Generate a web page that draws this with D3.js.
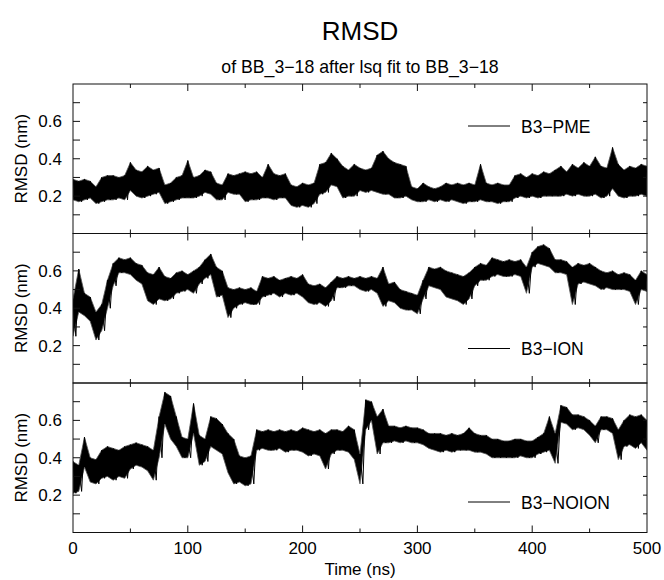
<!DOCTYPE html>
<html>
<head>
<meta charset="utf-8">
<script src="https://cdn.jsdelivr.net/npm/d3@7"></script>
<style>
  body { margin: 0; background: #fff; }
  text { font-family: "Liberation Sans", Arial, sans-serif; fill: #000; }
</style>
</head>
<body>
<svg id="chart" width="664" height="580"></svg>
<script>
// sample times every 5 ns; each series given as band top / band bottom of the noisy trace
const times = d3.range(0, 501, 5);

const pmeHi = [0.29,0.28,0.29,0.28,0.25,0.30,0.31,0.31,0.30,0.31,
    0.38,0.34,0.33,0.36,0.34,0.35,0.26,0.27,0.30,0.31,
    0.39,0.30,0.31,0.34,0.33,0.27,0.26,0.32,0.31,0.32,
    0.33,0.32,0.33,0.30,0.37,0.32,0.31,0.32,0.26,0.25,
    0.27,0.26,0.27,0.37,0.38,0.43,0.40,0.36,0.34,0.37,
    0.35,0.34,0.35,0.42,0.44,0.40,0.38,0.37,0.36,0.25,
    0.24,0.27,0.25,0.24,0.25,0.27,0.26,0.27,0.26,0.27,
    0.26,0.37,0.27,0.26,0.27,0.26,0.26,0.31,0.32,0.30,
    0.32,0.31,0.33,0.32,0.34,0.36,0.33,0.37,0.35,0.38,
    0.36,0.41,0.36,0.35,0.46,0.37,0.34,0.36,0.35,0.37,0.36];
const pmeLo = [0.18,0.17,0.18,0.19,0.16,0.17,0.18,0.18,0.19,0.18,
    0.23,0.20,0.19,0.20,0.21,0.22,0.16,0.17,0.18,0.19,
    0.19,0.19,0.20,0.22,0.21,0.18,0.18,0.22,0.21,0.21,
    0.17,0.18,0.18,0.19,0.19,0.18,0.19,0.19,0.15,0.14,
    0.15,0.14,0.16,0.21,0.22,0.26,0.25,0.19,0.20,0.20,
    0.23,0.22,0.23,0.22,0.21,0.21,0.19,0.19,0.20,0.18,
    0.17,0.17,0.18,0.17,0.18,0.17,0.18,0.17,0.16,0.17,
    0.17,0.18,0.17,0.17,0.16,0.17,0.17,0.19,0.20,0.19,
    0.20,0.19,0.20,0.20,0.20,0.20,0.21,0.20,0.21,0.20,
    0.20,0.21,0.19,0.20,0.24,0.20,0.19,0.20,0.20,0.21,0.20];

const ionHi = [0.45,0.61,0.48,0.46,0.38,0.42,0.55,0.64,0.67,0.66,
    0.67,0.64,0.63,0.59,0.58,0.62,0.57,0.56,0.59,0.60,
    0.58,0.60,0.62,0.66,0.69,0.62,0.60,0.51,0.50,0.51,
    0.50,0.51,0.49,0.57,0.56,0.57,0.55,0.56,0.57,0.56,
    0.58,0.53,0.52,0.53,0.51,0.54,0.57,0.56,0.57,0.56,
    0.57,0.56,0.57,0.56,0.62,0.53,0.54,0.50,0.49,0.48,
    0.47,0.55,0.62,0.61,0.62,0.60,0.59,0.58,0.57,0.59,
    0.62,0.64,0.63,0.67,0.66,0.65,0.66,0.65,0.66,0.62,
    0.70,0.73,0.74,0.72,0.66,0.66,0.65,0.62,0.64,0.63,
    0.64,0.62,0.60,0.59,0.60,0.58,0.59,0.58,0.55,0.60,0.58];
const ionLo = [0.25,0.38,0.36,0.33,0.23,0.28,0.40,0.52,0.59,0.59,
    0.58,0.55,0.53,0.44,0.42,0.45,0.44,0.45,0.48,0.49,
    0.50,0.48,0.53,0.56,0.58,0.46,0.47,0.35,0.40,0.42,
    0.43,0.42,0.42,0.46,0.47,0.48,0.46,0.48,0.47,0.48,
    0.46,0.43,0.42,0.43,0.41,0.44,0.51,0.51,0.52,0.52,
    0.50,0.49,0.50,0.48,0.41,0.44,0.43,0.40,0.39,0.39,
    0.37,0.45,0.52,0.51,0.50,0.46,0.45,0.44,0.42,0.45,
    0.52,0.55,0.55,0.57,0.58,0.57,0.57,0.58,0.57,0.48,
    0.62,0.64,0.63,0.62,0.59,0.59,0.58,0.42,0.53,0.54,
    0.53,0.52,0.50,0.51,0.50,0.50,0.50,0.49,0.42,0.50,0.49];

const noionHi = [0.38,0.36,0.51,0.40,0.39,0.44,0.46,0.45,0.44,0.46,
    0.47,0.48,0.47,0.46,0.44,0.62,0.75,0.73,0.62,0.51,
    0.50,0.69,0.52,0.50,0.62,0.61,0.58,0.53,0.50,0.41,
    0.40,0.41,0.55,0.54,0.55,0.54,0.55,0.54,0.55,0.54,
    0.56,0.55,0.54,0.55,0.53,0.55,0.55,0.54,0.57,0.55,
    0.42,0.71,0.70,0.62,0.66,0.57,0.57,0.56,0.57,0.56,
    0.56,0.55,0.53,0.53,0.53,0.52,0.53,0.52,0.53,0.56,
    0.53,0.52,0.52,0.50,0.50,0.49,0.49,0.50,0.50,0.49,
    0.49,0.51,0.53,0.62,0.53,0.68,0.67,0.63,0.63,0.62,
    0.60,0.57,0.62,0.62,0.61,0.55,0.60,0.63,0.62,0.63,0.60];
const noionLo = [0.21,0.22,0.35,0.27,0.26,0.29,0.30,0.28,0.30,0.29,
    0.34,0.36,0.35,0.33,0.28,0.40,0.58,0.50,0.46,0.40,
    0.40,0.53,0.36,0.38,0.46,0.44,0.42,0.32,0.26,0.27,
    0.25,0.26,0.44,0.45,0.44,0.44,0.45,0.43,0.44,0.44,
    0.43,0.41,0.42,0.41,0.34,0.42,0.44,0.44,0.43,0.39,
    0.26,0.55,0.60,0.42,0.48,0.48,0.49,0.48,0.49,0.48,
    0.48,0.47,0.45,0.44,0.43,0.44,0.43,0.44,0.44,0.44,
    0.43,0.43,0.42,0.40,0.40,0.40,0.40,0.40,0.41,0.40,
    0.40,0.42,0.43,0.44,0.37,0.59,0.58,0.55,0.56,0.55,
    0.52,0.48,0.55,0.55,0.53,0.39,0.46,0.47,0.45,0.48,0.44];

const seriesNames = ["B3\u2212PME", "B3\u2212ION", "B3\u2212NOION"];
const yTickVals = [0.2, 0.4, 0.6];
const xTickVals = [0, 100, 200, 300, 400, 500];

const svg = d3.select("#chart"),
    left = 73, right = 647,
    panelTops = [84, 233.5, 383],
    panelH = 149.5,
    legendDy = [42, 115, 119];

const x = d3.scaleLinear().domain([0, 500]).range([left, right]);

svg.append("text").attr("x", 360).attr("y", 40)
    .attr("text-anchor", "middle").attr("font-size", 26).text("RMSD");
svg.append("text").attr("x", 360).attr("y", 73)
    .attr("text-anchor", "middle").attr("font-size", 17.7)
    .text("of BB_3\u221218 after lsq fit to BB_3\u221218");

const bands = [[pmeHi, pmeLo], [ionHi, ionLo], [noionHi, noionLo]];

bands.forEach(([hi, lo], p) => {
    const top = panelTops[p], bottom = top + panelH;
    const y = d3.scaleLinear().domain([0, 0.8]).range([bottom, top]);
    const g = svg.append("g");

    const cid = "clip" + p;
    g.append("clipPath").attr("id", cid).append("rect")
        .attr("x", left).attr("y", top).attr("width", right - left).attr("height", panelH);

    // filled noise band between band top and bottom
    const area = d3.area()
        .x((t) => x(t))
        .y0((t, i) => y(lo[i]))
        .y1((t, i) => y(hi[i]));
    g.append("path")
        .attr("clip-path", `url(#${cid})`)
        .attr("d", area(times))
        .attr("fill", "#000")
        .attr("stroke", "#555").attr("stroke-width", 0.8);

    // trace zigzag on top for the spiky edges
    const pts = [];
    times.forEach((t, i) => {
        pts.push([t, hi[i]]);
        if (i < times.length - 1) pts.push([t + 2.5, lo[i]]);
    });
    g.append("path")
        .attr("clip-path", `url(#${cid})`)
        .attr("d", d3.line().x(d => x(d[0])).y(d => y(d[1]))(pts))
        .attr("fill", "none").attr("stroke", "#000").attr("stroke-width", 1);

    // frame
    g.append("rect").attr("x", left).attr("y", top)
        .attr("width", right - left).attr("height", panelH)
        .attr("fill", "none").attr("stroke", "#111").attr("stroke-width", 1);

    // y ticks (inward, both sides)
    const yt = d3.range(1, 8).map(v => v / 10);
    g.selectAll("line.yl").data(yt).enter().append("line")
        .attr("x1", left).attr("x2", left + 7)
        .attr("y1", d => y(d)).attr("y2", d => y(d)).attr("stroke", "#111");
    g.selectAll("line.yr").data(yt).enter().append("line")
        .attr("x1", right).attr("x2", right - 4)
        .attr("y1", d => y(d)).attr("y2", d => y(d)).attr("stroke", "#111");
    g.selectAll("text.yt").data(yTickVals).enter().append("text")
        .attr("x", left - 11).attr("y", d => y(d) + 6)
        .attr("text-anchor", "end").attr("font-size", 17)
        .text(d => d3.format(".1f")(d));

    // x ticks (inward, top and bottom)
    const xt = d3.range(50, 500, 50);
    [top, bottom].forEach(yy => {
        const dir = yy === top ? 1 : -1;
        g.selectAll(null).data(xt).enter().append("line")
            .attr("x1", d => x(d)).attr("x2", d => x(d))
            .attr("y1", yy).attr("y2", d => yy + dir * (d % 100 === 0 ? 7 : 4))
            .attr("stroke", "#111");
    });

    g.append("text")
        .attr("transform", `translate(27,${top + panelH / 2}) rotate(-90)`)
        .attr("text-anchor", "middle").attr("font-size", 17)
        .text("RMSD (nm)");

    // legend
    const ly = top + legendDy[p];
    g.append("line").attr("x1", 468).attr("x2", 510)
        .attr("y1", ly).attr("y2", ly).attr("stroke", "#000");
    g.append("text").attr("x", 521).attr("y", ly + 6.5)
        .attr("font-size", 17.5).text(seriesNames[p]);
});

const xBottom = panelTops[2] + panelH;
svg.selectAll("text.xt").data(xTickVals).enter().append("text")
    .attr("x", d => x(d)).attr("y", xBottom + 21)
    .attr("text-anchor", "middle").attr("font-size", 17)
    .text(d => d);
svg.append("text").attr("x", 360).attr("y", 575)
    .attr("text-anchor", "middle").attr("font-size", 17).text("Time (ns)");
</script>
</body>
</html>
